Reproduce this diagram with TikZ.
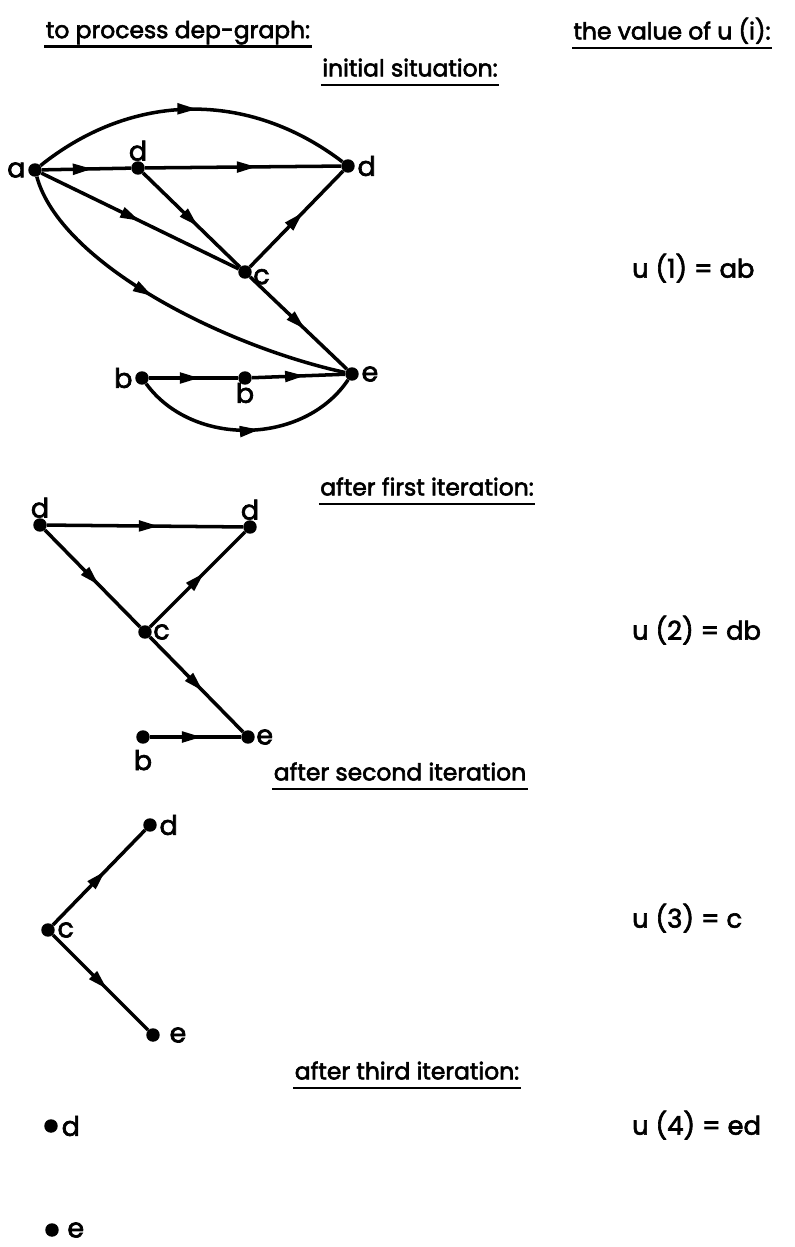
\documentclass[tikz,border=0pt]{standalone}
\usepackage{fontspec}
\setmainfont{Poppins}
\usetikzlibrary{arrows.meta,positioning,decorations.markings}
\tikzset{
  vertex/.style={circle,fill=black,inner sep=0pt,minimum size=11.5pt},
  lbl/.style={inner sep=1pt,font=\fontsize{23}{25}\selectfont\addfontfeature{FakeBold=2.5}},
  heading/.style={inner sep=1pt,text depth=6pt,font=\fontsize{20}{22}\selectfont\addfontfeature{FakeBold=2.5}},
  result/.style={anchor=west,font=\fontsize{22}{24}\selectfont\addfontfeature{FakeBold=2.5}},
  uline/.style={line width=2pt},
  edge/.style={line width=3pt,postaction={decorate},
    decoration={markings,mark=at position #1 with {\arrow{Triangle[length=17pt,width=9pt]}}}},
  edge/.default=0.57
}

\begin{document}
\begin{tikzpicture}[x=0.03cm,y=-0.03cm]
  \useasboundingbox (0,0) rectangle (795,1247);

  % headings
  \node[heading] (htitle) at (178,33) {to process dep-graph:};
  \node[heading] (hvalue) at (672,32) {the value of u (i):};
  \node[heading] (hinit) at (410,71) {initial situation:};
  \node[heading] (hfirst) at (427,490) {after first iteration:};
  \node[heading] (hsecond) at (400,775) {after second iteration};
  \node[heading] (hthird) at (407,1074) {after third iteration:};
  \foreach \h in {htitle,hvalue,hinit,hfirst,hsecond,hthird}
    \draw[uline] (\h.south west) -- (\h.south east);

  % initial situation
  \node[vertex] (a) at (35,170) {};
  \node[vertex] (d1) at (138,168) {};
  \node[vertex] (d2) at (348,166) {};
  \node[vertex] (c) at (245,272) {};
  \node[vertex] (e) at (352,374) {};
  \node[vertex] (b1) at (142,378) {};
  \node[vertex] (b2) at (245,378) {};
  \node[lbl,left=1pt of a] (la) {a};
  \node[lbl,above=-1pt of d1] (ld1) {d};
  \node[lbl,right=1pt of d2] (ld2) {d};
  \node[lbl,right=0pt of c,yshift=-4pt] (lc) {c};
  \node[lbl,right=1pt of e] (le) {e};
  \node[lbl,left=1pt of b1] (lb1) {b};
  \node[lbl,below=-3pt of b2] (lb2) {b};
  \draw[edge] (a) -- (d1);
  \draw[edge] (d1) -- (d2);
  \draw[edge=0.52] (a) to[bend left=38] (d2);
  \draw[edge=0.5] (a) -- (c);
  \draw[edge] (d1) -- (c);
  \draw[edge] (c) -- (d2);
  \draw[edge] (c) -- (e);
  \draw[edge=0.45] (a) .. controls (60,262) and (220,345) .. (e);
  \draw[edge] (b1) -- (b2);
  \draw[edge] (b2) -- (e);
  \draw[edge=0.55] (b1) to[bend right=55] (e);
  \node[result] (u1) at (628,268) {u (1) = ab};

  % after first iteration
  \node[vertex] (fd1) at (40,525) {};
  \node[vertex] (fd2) at (250,527) {};
  \node[vertex] (fc) at (145,632) {};
  \node[vertex] (fe) at (248,737) {};
  \node[vertex] (fb) at (143,737) {};
  \node[lbl,above=-1pt of fd1] (lfd1) {d};
  \node[lbl,above=-1pt of fd2] (lfd2) {d};
  \node[lbl,right=0pt of fc] (lfc) {c};
  \node[lbl,right=0pt of fe] (lfe) {e};
  \node[lbl,below=4pt of fb] (lfb) {b};
  \draw[edge] (fd1) -- (fd2);
  \draw[edge] (fd1) -- (fc);
  \draw[edge] (fc) -- (fd2);
  \draw[edge] (fc) -- (fe);
  \draw[edge] (fb) -- (fe);
  \node[result] (u2) at (628,630) {u (2) = db};

  % after second iteration
  \node[vertex] (sd) at (150,825) {};
  \node[vertex] (sc) at (48,930) {};
  \node[vertex] (se) at (153,1035) {};
  \node[lbl,right=1pt of sd] (lsd) {d};
  \node[lbl,right=1pt of sc] (lsc) {c};
  \node[lbl,right=7pt of se] (lse) {e};
  \draw[edge] (sc) -- (sd);
  \draw[edge] (sc) -- (se);
  \node[result] (u3) at (628,918) {u (3) = c};

  % after third iteration
  \node[vertex] (td) at (51,1126) {};
  \node[vertex] (te) at (52,1230) {};
  \node[lbl,right=2pt of td] (ltd) {d};
  \node[lbl,right=6pt of te] (lte) {e};
  \node[result] (u4) at (628,1125) {u (4) = ed};
\end{tikzpicture}
\end{document}
